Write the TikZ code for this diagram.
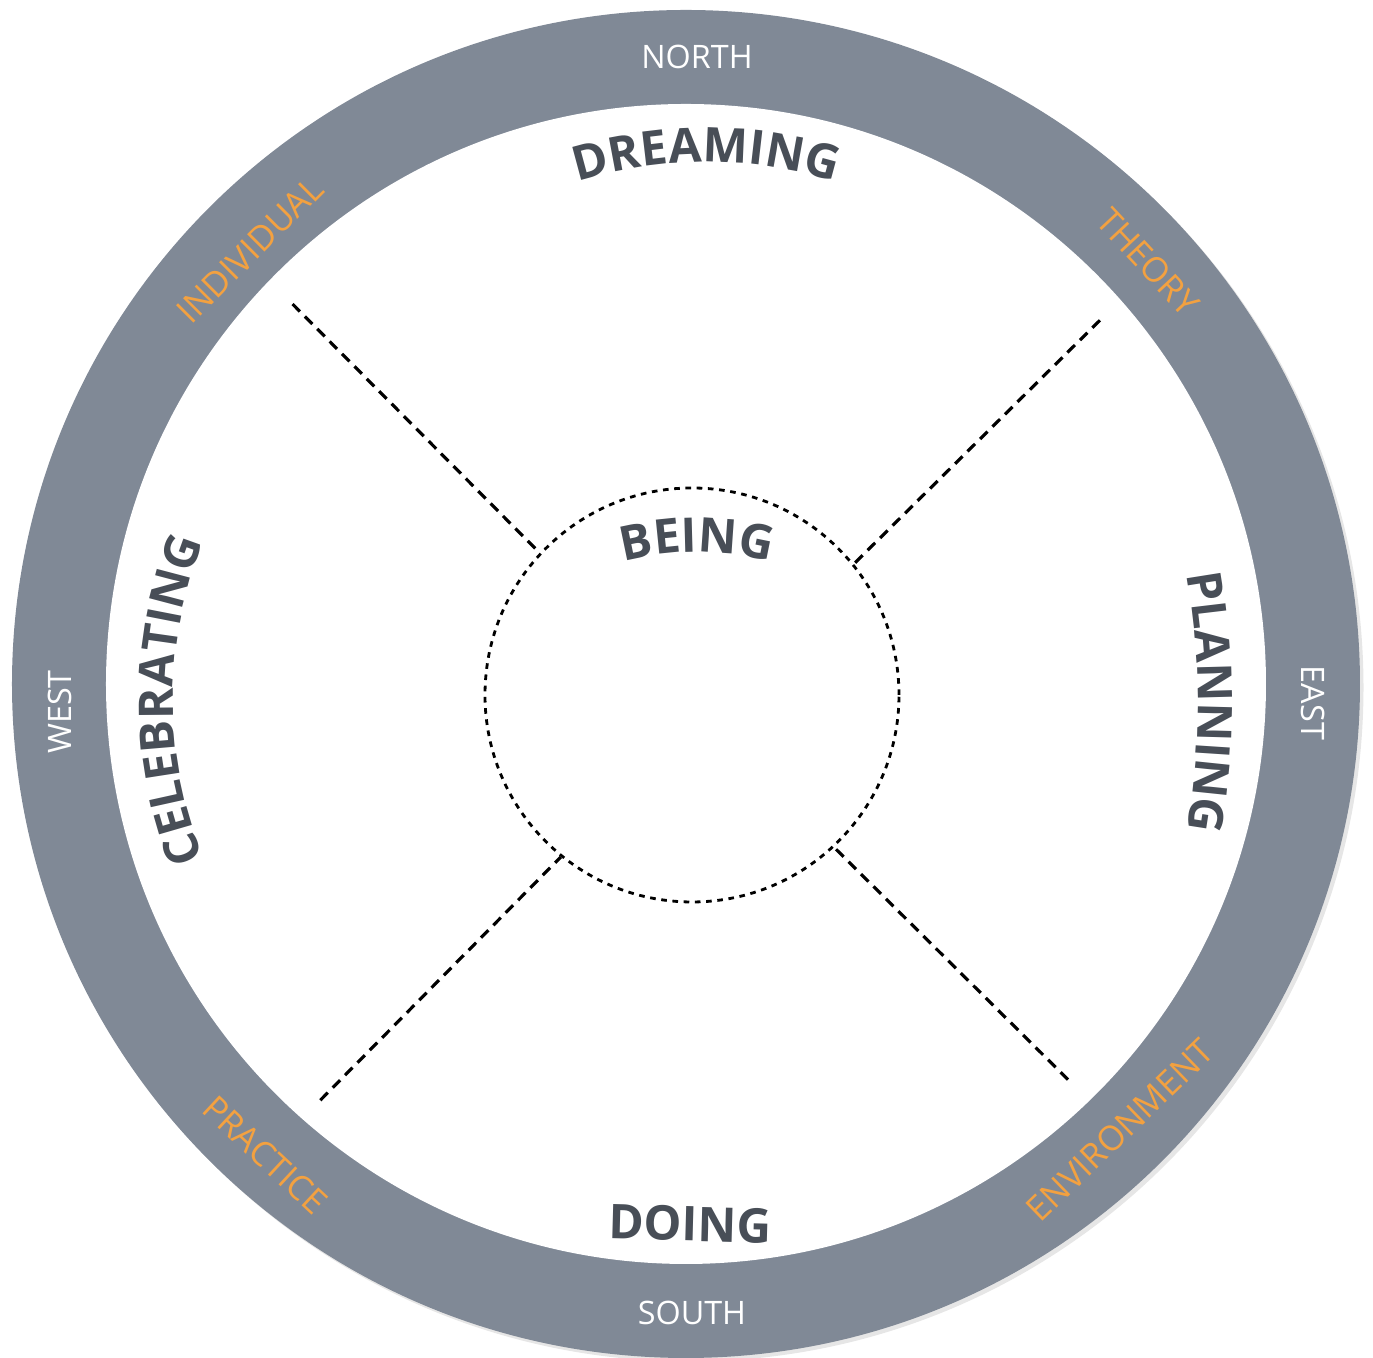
\documentclass[tikz,border=0pt]{standalone}
\usepackage{fontspec}
\setmainfont{Open Sans}
\usetikzlibrary{decorations.text, shadows}

\definecolor{ringgray}{RGB}{128,137,150}
\definecolor{inkgray}{RGB}{72,78,87}
\definecolor{compass}{RGB}{243,161,64}

\newcommand{\wordfont}{\bfseries\fontsize{13.6}{16}\selectfont}

\begin{document}
\begin{tikzpicture}[
    point/.style={font=\fontsize{9.2}{11}\selectfont, text=white, inner sep=0pt},
    side/.style={font=\fontsize{9.8}{12}\selectfont, text=compass, inner sep=0pt},
    word/.style={font=\wordfont, text=inkgray, inner sep=0pt},
    arcword/.style={decorate, decoration={text along path, text align=center, text={|\wordfont\color{inkgray}|#1}}},
    divider/.style={dash pattern=on 3pt off 2pt, line width=0.9pt},
    hubline/.style={draw, dash pattern=on 1.6pt off 1.6pt, line width=0.8pt}
]
\useasboundingbox (-6.86,-6.74) rectangle (6.87,6.84);

% Ring and face
\node[circle, fill=ringgray, minimum size=13.48cm, inner sep=0pt, outer sep=0pt,
      drop shadow={opacity=0.2, shadow xshift=1pt, shadow yshift=-1pt}] (wheel) at (0,0) {};
\node[circle, fill=white, minimum size=11.6cm, inner sep=0pt, outer sep=0pt] (face) at (0,0) {};

% Centre
\node[circle, hubline, minimum size=4.14cm, inner sep=0pt] (hub) at (0.06,-0.11) {};

% Quadrant dividers
\coordinate (nw) at (136:5.47);
\coordinate (ne) at (41.3:5.51);
\coordinate (sw) at (228.7:5.54);
\coordinate (se) at (314:5.50);

\draw[divider] (nw) -- (hub.137);
\draw[divider] (ne) -- (hub.39);
\draw[divider] (sw) -- (hub.231);
\draw[divider] (se) -- (hub.313);

% Compass points
\node[point] (north) at (0.11,6.27) {NORTH};
\node[point] (south) at (0.06,-6.29) {SOUTH};
\node[point, rotate=90] (west) at (-6.26,-0.28) {WEST};
\node[point, rotate=-90] (east) at (6.27,-0.19) {EAST};

% Ring labels
\node[side, rotate=45] (individual) at (-4.36,4.34) {INDIVIDUAL};
\node[side, rotate=-47] (theory) at (4.62,4.22) {THEORY};
\node[side, rotate=-43] (practice) at (-4.21,-4.71) {PRACTICE};
\node[side, rotate=44] (environment) at (4.34,-4.46) {ENVIRONMENT};

% Curved words
\coordinate (dreamc) at (0.2,0.92);
\coordinate (beingc) at (0.11,-1.52);
\coordinate (celebc) at (-0.93,-0.16);
\coordinate (planc) at (-2.08,-0.18);

\path[arcword=DREAMING] (dreamc) ++(150:4.3) arc[start angle=150, end angle=30, radius=4.3];
\path[arcword=BEING] (beingc) ++(150:2.84) arc[start angle=150, end angle=30, radius=2.84];
\path[arcword=CELEBRATING] (celebc) ++(210:4.2) arc[start angle=210, end angle=150, radius=4.2];
\path[arcword=PLANNING] (planc) ++(20:7.2) arc[start angle=20, end angle=-20, radius=7.2];

\node[word, rotate=-1.5] (doing) at (0.04,-5.40) {DOING};

\end{tikzpicture}
\end{document}
